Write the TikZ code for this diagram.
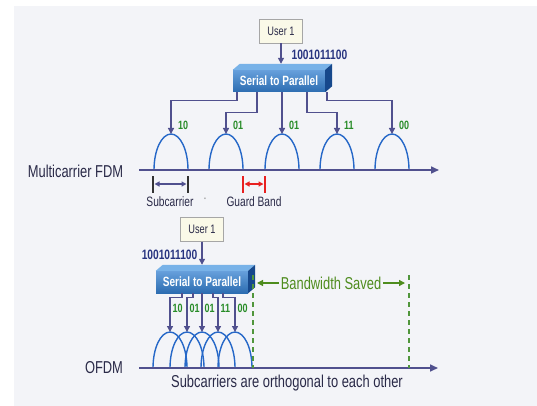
\documentclass[tikz,border=0pt]{standalone}
\usepackage{fontspec}
\setmainfont{Liberation Sans}[FakeStretch=0.75]
\usetikzlibrary{arrows.meta,positioning,calc}
\definecolor{bgc}{RGB}{243,244,248}
\definecolor{ink}{RGB}{42,42,72}
\definecolor{slate}{RGB}{80,80,142}
\definecolor{wave}{RGB}{38,104,200}
\definecolor{bitg}{RGB}{40,140,40}
\definecolor{bitb}{RGB}{40,52,128}
\definecolor{saved}{RGB}{78,140,30}
\definecolor{savedash}{RGB}{80,150,60}
\definecolor{guard}{RGB}{232,32,32}
\definecolor{spfront}{RGB}{52,128,208}
\definecolor{sptop}{RGB}{120,178,232}
\definecolor{spside}{RGB}{22,72,140}
\definecolor{userfill}{RGB}{250,249,232}

\begin{document}
\begin{tikzpicture}[x=1pt,y=-1pt,
  user/.style={rectangle,draw=gray!70,fill=userfill,text=ink,
               font=\fontsize{12.3}{14}\selectfont,
               minimum width=43pt,minimum height=24pt,inner sep=0pt},
  spbox/.style={rectangle,top color=spfront!75!white,bottom color=spfront!85!black,
                text=white,font=\bfseries\fontsize{13.4}{15}\selectfont,
                minimum width=92pt,minimum height=22pt,inner sep=0pt},
  feed/.style={draw=slate,line width=1.3pt,-{Triangle[length=6pt,width=6pt]}},
  bits/.style={font=\bfseries\fontsize{13.6}{15}\selectfont,text=bitb,inner sep=0pt},
  bitlbl/.style={font=\bfseries\fontsize{12}{13}\selectfont,text=bitg,
                 inner sep=0pt,anchor=west},
  carrier/.style={draw=wave,line width=1.4pt},
  axis/.style={draw=slate,line width=1.6pt,-{Triangle[length=8pt,width=7pt]}},
  tag/.style={font=\fontsize{17.2}{19}\selectfont,text=ink,inner sep=0pt},
  smalltag/.style={font=\fontsize{13.6}{15}\selectfont,text=ink,inner sep=0pt},
  tick/.style={line width=1.2pt},
  span/.style={line width=1.2pt,shorten <=1.5pt,shorten >=1.5pt,
               {Triangle[length=5pt,width=5pt]}-{Triangle[length=5pt,width=5pt]}},
  gap/.style={draw=savedash,line width=1.1pt,dash pattern=on 5pt off 4pt},
  savearr/.style={draw=saved,line width=1.3pt,shorten <=2pt,shorten >=4pt,
                  -{Triangle[length=6pt,width=6pt]}}]

  \useasboundingbox (0,0) rectangle (537,406);
  \fill[white] (0,0) rectangle (537,406);
  \fill[bgc] (14,6) rectangle (537,406);

  % multicarrier FDM
  \node[user] (u1) at (281,31) {User 1};
  \node[spbox] (sp1) at (279,81) {Serial to Parallel};
  \fill[sptop] (sp1.north west) -- ++(7,-6) -- ([shift={(7,-6)}]sp1.north east)
    -- (sp1.north east) -- cycle;
  \fill[spside] (sp1.north east) -- ++(7,-6) -- ([shift={(7,-6)}]sp1.south east)
    -- (sp1.south east) -- cycle;
  \draw[feed] (u1.south) -- ([yshift=6pt]sp1.north -| u1.south)
    node[bits,anchor=west,pos=0.55,xshift=10pt] (b1) {1001011100};

  \foreach \x [count=\i] in {171,226,282,337,392} {
    \coordinate (fa\i) at (\x,134);
    \draw[carrier] (\x-17,170) arc[start angle=180,end angle=360,x radius=17,y radius=36];
  }
  \foreach \s/\d/\b [count=\i] in {-42/8/10,-22/20/01,3/8/01,28/20/11,48/8/00} {
    \draw[feed] ([xshift=\s pt]sp1.south) -- ++(0,\d) -| (fa\i);
    \node[bitlbl] (la\i) at ([xshift=7pt,yshift=9pt]fa\i) {\b};
  }

  \coordinate (a0) at (139,170);
  \coordinate (a1) at (439,170);
  \draw[axis] (a0) -- (a1);
  \node[tag] (fdm) at (75.5,171) {Multicarrier FDM};

  \coordinate (s1) at (153,176);
  \coordinate (s2) at (188,176);
  \draw[tick,black!80] (s1) -- ++(0,17) (s2) -- ++(0,17);
  \draw[span,slate] ([yshift=-8pt]s1) -- ([yshift=-8pt]s2);
  \coordinate (g1) at (243,176);
  \coordinate (g2) at (265,176);
  \draw[tick,guard] (g1) -- ++(0,17) (g2) -- ++(0,17);
  \draw[span,guard] ([yshift=-8pt]g1) -- ([yshift=-8pt]g2);
  \node[smalltag] (sub) at (170,202) {Subcarrier};
  \node[smalltag,text=gray] (dot) at (205,200) {·};
  \node[smalltag] (gb) at (254,202) {Guard Band};

  % OFDM
  \node[user] (u2) at (202,229.5) {User 1};
  \node[spbox] (sp2) at (202,282) {Serial to Parallel};
  \fill[sptop] (sp2.north west) -- ++(7,-6) -- ([shift={(7,-6)}]sp2.north east)
    -- (sp2.north east) -- cycle;
  \fill[spside] (sp2.north east) -- ++(7,-6) -- ([shift={(7,-6)}]sp2.south east)
    -- (sp2.south east) -- cycle;
  \draw[feed] (u2.south) -- ([yshift=6pt]sp2.north -| u2.south)
    node[bits,anchor=east,pos=0.55,xshift=-4pt] (b2) {1001011100};

  \foreach \x [count=\i] in {170,187,202,218,235} {
    \coordinate (fb\i) at (\x,332);
    \draw[carrier] (\x-17,368) arc[start angle=180,end angle=360,x radius=17,y radius=36];
  }
  \foreach \s/\b [count=\i] in {-20/10,-9/01,0/01,11/11,21/00} {
    \draw[feed] ([xshift=\s pt]sp2.south) -- ++(0,4) -| (fb\i);
    \node[bitlbl] (lb\i) at ([xshift=2.5pt,yshift=24pt]fb\i) {\b};
  }

  \coordinate (o0) at (139,368);
  \coordinate (o1) at (438,368);
  \draw[axis] (o0) -- (o1);
  \node[tag] (ofdm) at (104,368) {OFDM};
  \node[tag] (orth) at (287,383) {Subcarriers are orthogonal to each other};

  \coordinate (d1) at (253,275);
  \coordinate (d2) at (409,275);
  \draw[gap] (d1) -- (d1 |- o0);
  \draw[gap] (d2) -- (d2 |- o0);
  \node[tag,text=saved] (bw) at (331,283) {Bandwidth Saved};
  \draw[savearr] (bw.west) -- (d1 |- bw);
  \draw[savearr] (bw.east) -- (d2 |- bw);
\end{tikzpicture}
\end{document}
